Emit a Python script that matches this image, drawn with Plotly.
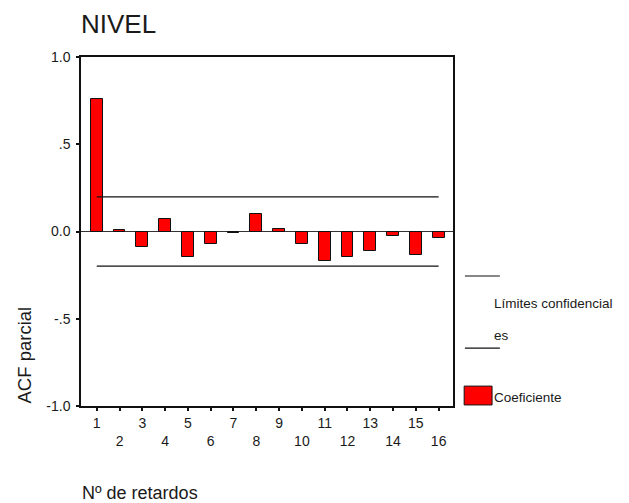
"""Partial autocorrelation chart for NIVEL"""
import plotly.graph_objs as go

lags = list(range(1, 17))
pacf = [0.758, 0.008, -0.088, 0.073, -0.144, -0.071, -0.010, 0.098,
        0.017, -0.073, -0.167, -0.144, -0.111, -0.025, -0.134, -0.040]
conf_upper = [0.198] * 16
conf_lower = [-0.198] * 16
tick_labels = [str(n) if n % 2 else "<br>" + str(n) for n in lags]
y_ticks = [-1.0, -0.5, 0.0, 0.5, 1.0]
y_tick_labels = ["-1.0", "-.5", "0.0", ".5", "1.0"]

font = "Liberation Sans, Arial, sans-serif"
ink = "#1a1a1a"

fig = go.Figure()

fig.add_trace(go.Bar(
    x=lags, y=pacf, width=0.52,
    marker=dict(color="#ff0000", line=dict(color="#111111", width=1)),
    showlegend=False
))
for limit in (conf_upper, conf_lower):
    fig.add_trace(go.Scatter(
        x=lags, y=limit, mode="lines",
        line=dict(color="#111111", width=1.2),
        showlegend=False
    ))

# hand-drawn legend to the right of the plot
shapes = [
    dict(type="line", xref="paper", yref="paper", x0=1.032, x1=1.126,
         y0=0.3725, y1=0.3725, line=dict(color="#111111", width=1.2)),
    dict(type="line", xref="paper", yref="paper", x0=1.032, x1=1.126,
         y0=0.166, y1=0.166, line=dict(color="#111111", width=1.2)),
    dict(type="rect", xref="paper", yref="paper", x0=1.030, x1=1.105,
         y0=0.003, y1=0.057, fillcolor="#ff0000",
         line=dict(color="#111111", width=1)),
]
annotations = [
    dict(text="Límites confidencial", x=1.104, y=0.295, size=13.5),
    dict(text="es", x=1.104, y=0.203, size=13.5),
    dict(text="Coeficiente", x=1.104, y=0.024, size=13.5),
    dict(text="Nº de retardos", x=-0.002, y=-0.249, size=18),
]
annotations = [dict(xref="paper", yref="paper", xanchor="left",
                    yanchor="middle", showarrow=False, text=a["text"],
                    x=a["x"], y=a["y"],
                    font=dict(size=a["size"], color=ink, family=font))
               for a in annotations]
annotations.append(dict(
    text="ACF parcial", xref="paper", yref="paper", x=-0.153, y=0.145,
    textangle=-90, showarrow=False, xanchor="center", yanchor="middle",
    font=dict(size=18.5, color=ink, family=font)
))

# page body adds an 8px margin, so the figure is 8px smaller each way
fig.update_layout(
    width=621, height=495,
    margin=dict(l=73, r=176, t=49, b=97),
    paper_bgcolor="white", plot_bgcolor="white",
    font=dict(family=font, size=14, color=ink),
    title=dict(text="NIVEL", x=73 / 621, xanchor="left", xref="container",
               y=1 - 16 / 495, yanchor="middle",
               font=dict(size=26, color=ink, family=font)),
    showlegend=False,
    shapes=shapes,
    annotations=annotations,
    bargap=0,
)
fig.update_xaxes(
    range=[0.31, 16.63], tickvals=lags, ticktext=tick_labels,
    showline=True, linecolor="#111111", linewidth=1.5, mirror=True,
    ticks="outside", ticklen=3, tickwidth=2, tickcolor="#111111",
    showgrid=False, zeroline=False, tickfont=dict(size=14)
)
fig.update_yaxes(
    range=[-1, 1], tickvals=y_ticks, ticktext=y_tick_labels,
    showline=True, linecolor="#111111", linewidth=1.5, mirror=True,
    ticks="outside", ticklen=3, tickwidth=2, tickcolor="#111111",
    showgrid=False, zeroline=True, zerolinecolor="#333333", zerolinewidth=1,
    tickfont=dict(size=14), ticklabelstandoff=3
)

fig.write_html("out.html")
